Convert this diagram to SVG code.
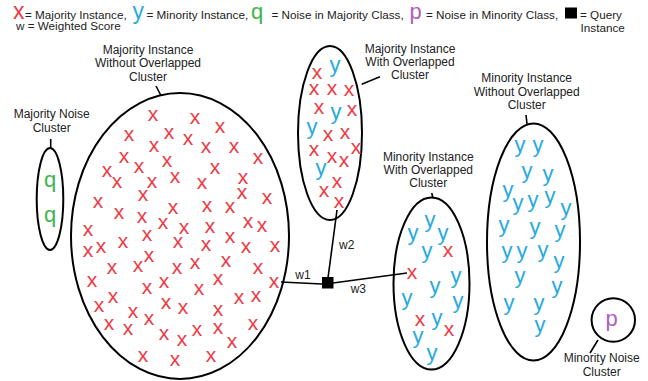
<svg xmlns="http://www.w3.org/2000/svg" width="648" height="381" viewBox="0 0 648 381">
<style>
text{font-family:"Liberation Sans",Arial,sans-serif}
.lg{font-size:11.7px;fill:#222}
.lb{font-size:12px;fill:#222;text-anchor:middle}
.cl{fill:none;stroke:#000;stroke-width:2}
.ld{stroke:#000;stroke-width:1.6;fill:none}
.x{fill:#ee3b45;font-size:21px;text-anchor:middle}
.y{fill:#29aae1;font-size:22px;text-anchor:middle}
.q{fill:#3db54a;font-size:22px;text-anchor:middle}
.p{fill:#b05ec1;font-size:22px;text-anchor:middle}
.cn{stroke:#000;stroke-width:1.6;fill:none}
</style>
<rect width="648" height="381" fill="#fff"/>
<g id="legend">
<text x="13" y="18.5" style="fill:#ee3b45;font-size:23px">x</text>
<text class="lg" x="25" y="19">= Majority Instance,</text>
<text x="132.5" y="19" style="fill:#29aae1;font-size:23px">y</text>
<text class="lg" x="146.5" y="19">= Minority Instance,</text>
<text x="251" y="19" style="fill:#3db54a;font-size:22px">q</text>
<text class="lg" x="271.5" y="19">= Noise in Majority Class,</text>
<text x="409.5" y="19" style="fill:#b05ec1;font-size:22px">p</text>
<text class="lg" x="426" y="19">= Noise in Minority Class,</text>
<rect x="565" y="7.5" width="12" height="11" fill="#000"/>
<text class="lg" x="580" y="19">= Query</text>
<text class="lg" x="602.7" y="32" text-anchor="middle">Instance</text>
<text class="lg" x="16" y="30">w = Weighted Score</text>
</g>
<g id="majority-noise">
<ellipse class="cl" cx="50" cy="199" rx="13.3" ry="51"/>
<line class="ld" x1="50.7" y1="139" x2="50.7" y2="148.3"/>
<text class="lb" x="51.7" y="118.3">Majority Noise</text>
<text class="lb" x="51.7" y="132.3">Cluster</text>
<text class="q" x="50" y="186.5">q</text>
<text class="q" x="50" y="221.5">q</text>
</g>
<g id="majority-without-overlap">
<ellipse class="cl" cx="180" cy="236" rx="109" ry="143"/>
<line class="ld" x1="156" y1="86" x2="160.7" y2="95"/>
<text class="lb" x="148" y="53.5">Majority Instance</text>
<text class="lb" x="148" y="67">Without Overlapped</text>
<text class="lb" x="148" y="80.5">Cluster</text>
<g class="x">
<text x="153" y="120.5">x</text><text x="195" y="123.5">x</text><text x="220" y="132.5">x</text><text x="129" y="140.5">x</text>
<text x="169" y="138.5">x</text><text x="188" y="144.5">x</text><text x="154" y="151.5">x</text><text x="206" y="152.5">x</text>
<text x="234" y="152.5">x</text><text x="124" y="162.5">x</text><text x="167" y="166.5">x</text><text x="258" y="163.5">x</text>
<text x="139" y="172.5">x</text><text x="215" y="173.5">x</text><text x="107" y="176.5">x</text><text x="117" y="187.5">x</text>
<text x="152" y="187.5">x</text><text x="175" y="182.5">x</text><text x="202" y="188.5">x</text><text x="243" y="183.5">x</text>
<text x="143" y="200.5">x</text><text x="242" y="198.5">x</text><text x="98" y="207.5">x</text><text x="267" y="203.5">x</text>
<text x="119" y="218.5">x</text><text x="173" y="213.5">x</text><text x="207" y="211.5">x</text><text x="230" y="212.5">x</text>
<text x="142" y="222.5">x</text><text x="163" y="228.5">x</text><text x="184" y="233.5">x</text><text x="210" y="232.5">x</text>
<text x="248" y="227.5">x</text><text x="262" y="231.5">x</text><text x="88" y="235.5">x</text><text x="147" y="240.5">x</text>
<text x="230" y="242.5">x</text><text x="88" y="256.5">x</text><text x="101" y="252.5">x</text><text x="123" y="247.5">x</text>
<text x="178" y="247.5">x</text><text x="206" y="250.5">x</text><text x="246" y="252.5">x</text><text x="275" y="251.5">x</text>
<text x="149" y="261.5">x</text><text x="112" y="273.5">x</text><text x="138" y="271.5">x</text><text x="177" y="273.5">x</text>
<text x="195" y="268.5">x</text><text x="226" y="266.5">x</text><text x="258" y="273.5">x</text><text x="92" y="286.5">x</text>
<text x="164" y="287.5">x</text><text x="218" y="284.5">x</text><text x="274" y="287.5">x</text><text x="147" y="293.5">x</text>
<text x="199" y="294.5">x</text><text x="113" y="302.5">x</text><text x="239" y="303.5">x</text><text x="256" y="301.5">x</text>
<text x="99" y="311.5">x</text><text x="166" y="308.5">x</text><text x="183" y="313.5">x</text><text x="133" y="317.5">x</text>
<text x="218" y="315.5">x</text><text x="149" y="324.5">x</text><text x="109" y="329.5">x</text><text x="128" y="334.5">x</text>
<text x="197" y="335.5">x</text><text x="218" y="333.5">x</text><text x="253" y="329.5">x</text><text x="164" y="339.5">x</text>
<text x="182" y="345.5">x</text><text x="232" y="347.5">x</text><text x="143" y="361.5">x</text><text x="175" y="365.5">x</text>
<text x="211" y="361.5">x</text>
</g>
</g>
<g id="majority-with-overlap">
<ellipse class="cl" cx="330" cy="133" rx="32" ry="87"/>
<line class="ld" x1="380" y1="76.7" x2="361.7" y2="84.3"/>
<text class="lb" x="410" y="53">Majority Instance</text>
<text class="lb" x="410" y="66">With Overlapped</text>
<text class="lb" x="410" y="79">Cluster</text>
<g class="x">
<text x="317" y="79">x</text><text x="314" y="95">x</text><text x="332" y="95">x</text><text x="349" y="96">x</text>
<text x="319" y="114">x</text><text x="352" y="115.5">x</text><text x="328" y="140.5">x</text><text x="345" y="139">x</text>
<text x="314" y="155.5">x</text><text x="356" y="154">x</text><text x="332" y="163">x</text><text x="344" y="167">x</text>
<text x="337" y="188">x</text><text x="324" y="197">x</text><text x="339" y="208">x</text>
</g>
<g class="y">
<text x="335" y="72">y</text><text x="336" y="118.5">y</text><text x="312" y="133.5">y</text><text x="321" y="175">y</text>
</g>
</g>
<g id="minority-with-overlap">
<ellipse class="cl" cx="431.5" cy="283.5" rx="38" ry="86"/>
<line class="ld" x1="431.7" y1="193" x2="433" y2="198"/>
<text class="lb" x="428.3" y="160.7">Minority Instance</text>
<text class="lb" x="428.3" y="174.3">With Overlapped</text>
<text class="lb" x="428.3" y="187.3">Cluster</text>
<g class="y">
<text x="430" y="226.7">y</text><text x="413" y="240">y</text><text x="443" y="240">y</text><text x="427" y="258.4">y</text>
<text x="456" y="283.4">y</text><text x="435" y="293.4">y</text><text x="407" y="305">y</text><text x="458" y="308.4">y</text>
<text x="437" y="325">y</text><text x="418" y="343.4">y</text><text x="432" y="360">y</text>
</g>
<g class="x">
<text x="448" y="257">x</text><text x="412" y="279">x</text><text x="420" y="325.5">x</text><text x="449" y="335.5">x</text>
</g>
</g>
<g id="minority-without-overlap">
<ellipse class="cl" cx="533.5" cy="242" rx="46.5" ry="118.5"/>
<line class="ld" x1="526" y1="115" x2="527" y2="124"/>
<text class="lb" x="526.7" y="81.7">Minority Instance</text>
<text class="lb" x="526.7" y="95.7">Without Overlapped</text>
<text class="lb" x="526.7" y="108.7">Cluster</text>
<g class="y">
<text x="520" y="151.7">y</text><text x="538" y="151.7">y</text><text x="527" y="178.4">y</text><text x="548" y="180.7">y</text>
<text x="508" y="196.7">y</text><text x="518" y="210">y</text><text x="533" y="206.7">y</text><text x="550" y="203.4">y</text>
<text x="566" y="215">y</text><text x="504" y="231.7">y</text><text x="535" y="234">y</text><text x="560" y="236.7">y</text>
<text x="507" y="258.4">y</text><text x="522" y="258.4">y</text><text x="543" y="256.7">y</text><text x="559" y="268.4">y</text>
<text x="520" y="283.4">y</text><text x="557" y="293.4">y</text><text x="509" y="310">y</text><text x="539" y="310">y</text>
<text x="540" y="331.7">y</text>
</g>
</g>
<g id="minority-noise">
<circle class="cl" cx="613.3" cy="320" r="21.7"/>
<line class="ld" x1="598" y1="340" x2="590" y2="353"/>
<text class="p" x="611.7" y="326.4">p</text>
<text class="lb" x="601.7" y="361.7">Minority Noise</text>
<text class="lb" x="601.7" y="375.5">Cluster</text>
</g>
<g id="query-instance">
<rect x="322" y="277" width="11.5" height="11.5" fill="#000"/>
</g>
<g id="connectors">
<line class="cn" x1="281" y1="282" x2="322" y2="284"/>
<line class="cn" x1="337" y1="210" x2="328" y2="278"/>
<line class="cn" x1="333" y1="283" x2="407" y2="273"/>
<text class="lb" x="303" y="279">w1</text>
<text class="lb" x="346.7" y="249">w2</text>
<text class="lb" x="358.3" y="293">w3</text>
</g>
</svg>
